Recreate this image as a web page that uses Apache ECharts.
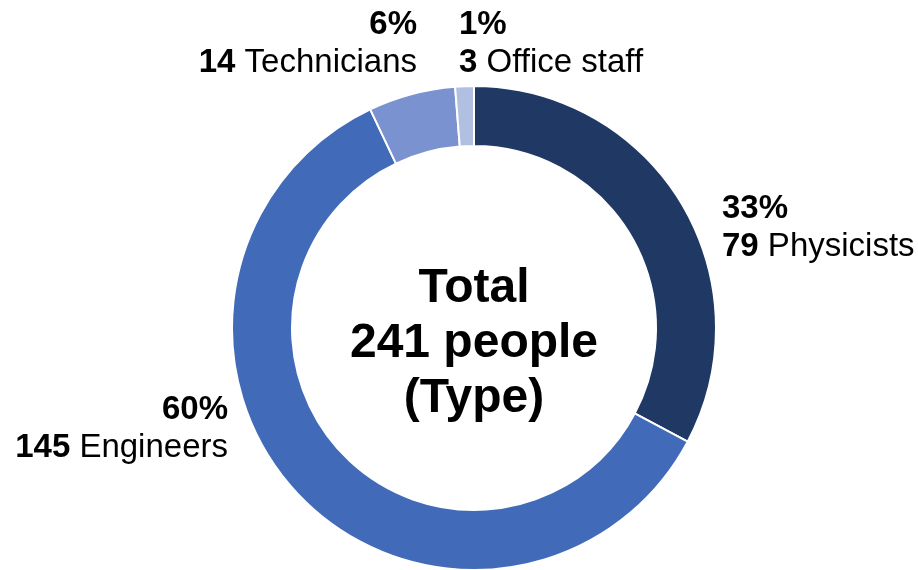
<!DOCTYPE html>
<html>
<head>
<meta charset="utf-8">
<title>Staff by type</title>
<script src="https://cdn.jsdelivr.net/npm/echarts@6/dist/echarts.min.js"></script>
<style>
  html, body { margin: 0; padding: 0; background: #ffffff; }
  #chart { width: 918px; height: 570px; }
</style>
</head>
<body>
<div id="chart"></div>
<script>
// Staff headcount by type
const categories = ['Physicists', 'Engineers', 'Technicians', 'Office staff'];
const headcounts = [79, 145, 14, 3];
const centerLines = ['Total', 'people', '(Type)'];

// Presentation settings
const sliceColors = ['#203864', '#416BB8', '#7A92CF', '#B1BFE1'];
const labelAnchors = [
  { x: 722, y: 228, align: 'left' },
  { x: 228, y: 429, align: 'right' },
  { x: 417, y: 44, align: 'right' },
  { x: 459, y: 44, align: 'left' }
];
const FONT = '"Liberation Sans", Arial, Helvetica, sans-serif';
const CX = 474, CY = 328;
const CENTER_TEXT_Y = 344;

const total = headcounts.reduce((a, b) => a + b, 0);

const chart = echarts.init(document.getElementById('chart'), null, { renderer: 'canvas' });

const pieData = categories.map((name, i) => ({
  name: name,
  value: headcounts[i],
  itemStyle: { color: sliceColors[i] },
  label: { align: labelAnchors[i].align }
}));

const labelText = { fontFamily: FONT, fontSize: 33, color: '#000', lineHeight: 38 };

chart.setOption({
  animation: false,
  backgroundColor: '#ffffff',
  series: [{
    type: 'pie',
    center: [CX, CY],
    radius: [182, 242],
    startAngle: 90,
    clockwise: true,
    avoidLabelOverlap: false,
    itemStyle: { borderColor: '#ffffff', borderWidth: 2 },
    label: {
      show: true,
      position: 'outside',
      fontFamily: FONT,
      fontSize: 33,
      color: '#000000',
      formatter: p => '{pct|' + Math.round(p.percent) + '%}\n{num|' + p.value + ' }{txt|' + p.name + '}',
      rich: {
        pct: Object.assign({ fontWeight: 'bold' }, labelText),
        num: Object.assign({ fontWeight: 'bold' }, labelText),
        txt: Object.assign({}, labelText)
      }
    },
    labelLine: { show: false },
    labelLayout: params => {
      const a = labelAnchors[params.dataIndex];
      return { x: a.x, y: a.y, align: a.align, verticalAlign: 'middle' };
    },
    emphasis: { disabled: true },
    data: pieData
  }],
  graphic: [{
    type: 'text',
    x: CX,
    y: CENTER_TEXT_Y,
    style: {
      text: centerLines[0] + '\n' + total + ' ' + centerLines[1] + '\n' + centerLines[2],
      fontFamily: FONT,
      fontSize: 48,
      fontWeight: 'bold',
      lineHeight: 55,
      fill: '#000000',
      align: 'center',
      verticalAlign: 'middle'
    }
  }]
});
</script>
</body>
</html>
